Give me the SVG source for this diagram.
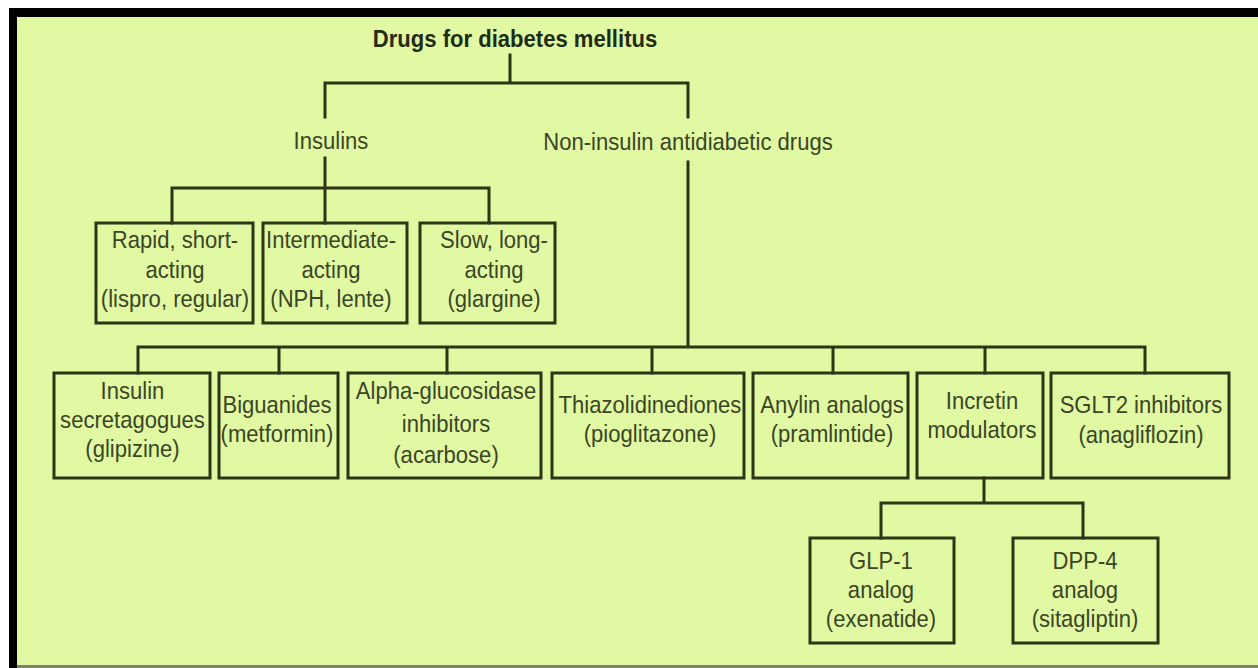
<svg xmlns="http://www.w3.org/2000/svg" width="1258" height="668" viewBox="0 0 1258 668">
<style>
.bx{fill:none;stroke:#2c3616;stroke-width:3}
.cn{fill:none;stroke:#2c3616;stroke-width:3;stroke-linecap:square}
text{font-family:"Liberation Sans",Arial,Helvetica,sans-serif;font-size:24px;fill:#3a4526;text-anchor:middle}
.t{font-weight:bold;fill:#222c14}
</style>
<rect x="0" y="0" width="1258" height="668" fill="#ffffff"/>
<rect x="9" y="8" width="1249" height="660" fill="#000000"/>
<rect x="17" y="17" width="1241" height="648" fill="#e0f9a2"/>
<rect x="17" y="665" width="1241" height="3" fill="#7c8268"/>

<g id="connectors">
<path class="cn" d="M510 55V83M325 83H688M325 83V117M688 83V117"/>
<path class="cn" d="M325 158V223M172 188H489M172 188V223M489 188V223"/>
<path class="cn" d="M688 162V347M138 347H1145M138 347V373M279 347V373M447 347V373M652 347V373M833 347V373M985 347V373M1145 347V373"/>
<path class="cn" d="M984 478V503M881 503H1083M881 503V538M1083 503V538"/>
</g>

<g id="root"><text class="t" transform="matrix(0.92 0 0 1 515 47)">Drugs for diabetes mellitus</text></g>
<g id="insulins"><text transform="matrix(0.92 0 0 1 331 149)">Insulins</text></g>
<g id="noninsulin"><text transform="matrix(0.92 0 0 1 688 150)">Non-insulin antidiabetic drugs</text></g>

<g id="rapid"><rect class="bx" x="96" y="223" width="157" height="100"/>
<text transform="matrix(0.92 0 0 1 175 248)"><tspan x="0" y="0">Rapid, short-</tspan><tspan x="0" y="30">acting</tspan><tspan x="0" y="59">(lispro, regular)</tspan></text></g>
<g id="intermediate"><rect class="bx" x="263" y="223" width="144" height="100"/>
<text transform="matrix(0.92 0 0 1 331 248)"><tspan x="0" y="0">Intermediate-</tspan><tspan x="0" y="30">acting</tspan><tspan x="0" y="59">(NPH, lente)</tspan></text></g>
<g id="slow"><rect class="bx" x="420" y="223" width="135" height="100"/>
<text transform="matrix(0.92 0 0 1 494 248)"><tspan x="0" y="0">Slow, long-</tspan><tspan x="0" y="30">acting</tspan><tspan x="0" y="59">(glargine)</tspan></text></g>

<g id="secretagogues"><rect class="bx" x="54" y="373" width="156" height="105"/>
<text transform="matrix(0.92 0 0 1 132.5 399)"><tspan x="0" y="0">Insulin</tspan><tspan x="0" y="29">secretagogues</tspan><tspan x="0" y="58">(glipizine)</tspan></text></g>
<g id="biguanides"><rect class="bx" x="219" y="373" width="119" height="105"/>
<text transform="matrix(0.92 0 0 1 277 413)"><tspan x="0" y="0">Biguanides</tspan><tspan x="0" y="29">(metformin)</tspan></text></g>
<g id="alpha"><rect class="bx" x="348" y="373" width="193" height="105"/>
<text transform="matrix(0.92 0 0 1 446 399)"><tspan x="0" y="0">Alpha-glucosidase</tspan><tspan x="0" y="33">inhibitors</tspan><tspan x="0" y="64">(acarbose)</tspan></text></g>
<g id="thiazo"><rect class="bx" x="552" y="373" width="192" height="105"/>
<text transform="matrix(0.92 0 0 1 650 413)"><tspan x="0" y="0">Thiazolidinediones</tspan><tspan x="0" y="29">(pioglitazone)</tspan></text></g>
<g id="amylin"><rect class="bx" x="753" y="373" width="155" height="105"/>
<text transform="matrix(0.92 0 0 1 832 413)"><tspan x="0" y="0">Anylin analogs</tspan><tspan x="0" y="29">(pramlintide)</tspan></text></g>
<g id="incretin"><rect class="bx" x="917" y="373" width="126" height="105"/>
<text transform="matrix(0.92 0 0 1 982 409)"><tspan x="0" y="0">Incretin</tspan><tspan x="0" y="29">modulators</tspan></text></g>
<g id="sglt2"><rect class="bx" x="1051" y="373" width="178" height="105"/>
<text transform="matrix(0.92 0 0 1 1141 413)"><tspan x="0" y="0">SGLT2 inhibitors</tspan><tspan x="0" y="30">(anagliflozin)</tspan></text></g>

<g id="glp1"><rect class="bx" x="810" y="538" width="144" height="105"/>
<text transform="matrix(0.92 0 0 1 881 569)"><tspan x="0" y="0">GLP-1</tspan><tspan x="0" y="29">analog</tspan><tspan x="0" y="58">(exenatide)</tspan></text></g>
<g id="dpp4"><rect class="bx" x="1013" y="538" width="145" height="105"/>
<text transform="matrix(0.92 0 0 1 1085 569)"><tspan x="0" y="0">DPP-4</tspan><tspan x="0" y="29">analog</tspan><tspan x="0" y="58">(sitagliptin)</tspan></text></g>
</svg>
